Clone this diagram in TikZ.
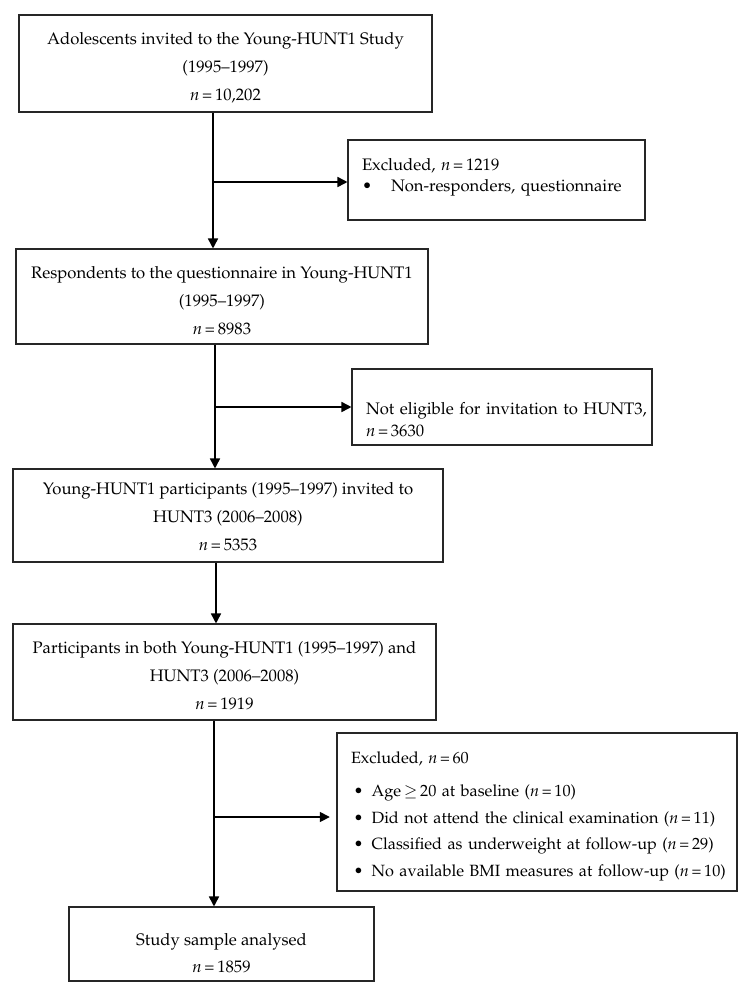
\documentclass[tikz,border=0pt]{standalone}
\usepackage[T1]{fontenc}
\usepackage{mathpazo}
\usetikzlibrary{arrows.meta}

\newcommand{\nval}[1]{\textit{n}\,=\,#1}
\newcommand{\bitem}[2]{\mbox{\makebox[#1][l]{\textbullet}#2}}
\newcommand{\tophgt}[1]{\rule{0pt}{#1}}
\newcommand{\botdep}[1]{\rule[-#1]{0pt}{#1}}

\tikzset{
  box/.style={draw=black!85, line width=0.8pt, rectangle, align=center,
    inner sep=0pt, font=\fontsize{12.5}{21}\selectfont},
  exbox/.style={box, align=left, inner xsep=10.5pt, font=\fontsize{12.5}{16}\selectfont},
  flow/.style={line width=1.2pt, -{Triangle[length=7.5pt,width=7.5pt]}},
}

\begin{document}
\begin{tikzpicture}[x=0.75pt, y=-0.75pt]
  \useasboundingbox (0,0) rectangle (753,993);

  % main column
  \node[box, minimum width=309.75pt, minimum height=72.75pt] (invited) at (225.5,63.5)
    {\tophgt{15pt}Adolescents invited to the Young-HUNT1 Study\\(1995--1997)\\\nval{10,202}};
  \node[box, minimum width=309pt, minimum height=71.25pt] (resp) at (222,296.5)
    {\tophgt{15pt}Respondents to the questionnaire in Young-HUNT1\\(1995--1997)\\\nval{8983}};
  \node[box, minimum width=322.5pt, minimum height=69.75pt] (hunt3inv) at (228,515.5)
    {\tophgt{11pt}Young-HUNT1 participants (1995--1997) invited to\\HUNT3 (2006--2008)\\\nval{5353}};
  \node[box, minimum width=317.25pt, minimum height=72pt] (both) at (224.5,672)
    {\tophgt{15pt}Participants in both Young-HUNT1 (1995--1997) and\\HUNT3 (2006--2008)\\\nval{1919}};
  \node[box, minimum width=228.75pt, minimum height=55.5pt, font=\fontsize{12.5}{20}\selectfont] (sample) at (221.5,944)
    {\tophgt{22.5pt}Study sample analysed\\\nval{1859}};

  % exclusion boxes
  \node[exbox, text width=201.75pt, minimum height=60pt] (excl1) at (496.5,180)
    {\mbox{Excluded, \nval{1219}}\\\bitem{21.75pt}{Non-responders, questionnaire}\botdep{8pt}};
  \node[exbox, text width=204pt, minimum height=57pt] (notelig) at (502,407)
    {\tophgt{28pt}\mbox{Not eligible for invitation to HUNT3,}\\\nval{3630}};
  \node[exbox, text width=279pt, minimum height=118.5pt, font=\fontsize{12.2}{20}\selectfont] (excl2) at (537,812)
    {\tophgt{15.5pt}\mbox{Excluded, \nval{60}}\\[4.5pt]
     \hspace*{2pt}\bitem{13.5pt}{Age\,$\geq$\,20 at baseline (\nval{10})}\\
     \hspace*{2pt}\bitem{13.5pt}{Did not attend the clinical examination (\nval{11})}\\
     \hspace*{2pt}\bitem{13.5pt}{Classified as underweight at follow-up (\nval{29})}\\
     \hspace*{2pt}\bitem{13.5pt}{No available BMI measures at follow-up (\nval{10})}};

  % junctions
  \coordinate (j1) at (213,182);
  \coordinate (j2) at (215,407);
  \coordinate (j3) at (216,590);
  \coordinate (j4) at (214,817);

  \draw[flow] (j1 |- invited.south) -- (j1 |- resp.north);
  \draw[flow] (j1) -- (j1 -| excl1.west);
  \draw[flow] (j2 |- resp.south) -- (j2 |- hunt3inv.north);
  \draw[flow] (j2) -- (j2 -| notelig.west);
  \draw[flow] (j3 |- hunt3inv.south) -- (j3 |- both.north);
  \draw[flow] (j4 |- both.south) -- (j4 |- sample.north);
  \draw[flow, shorten >=5pt] (j4) -- (j4 -| excl2.west);
\end{tikzpicture}
\end{document}
